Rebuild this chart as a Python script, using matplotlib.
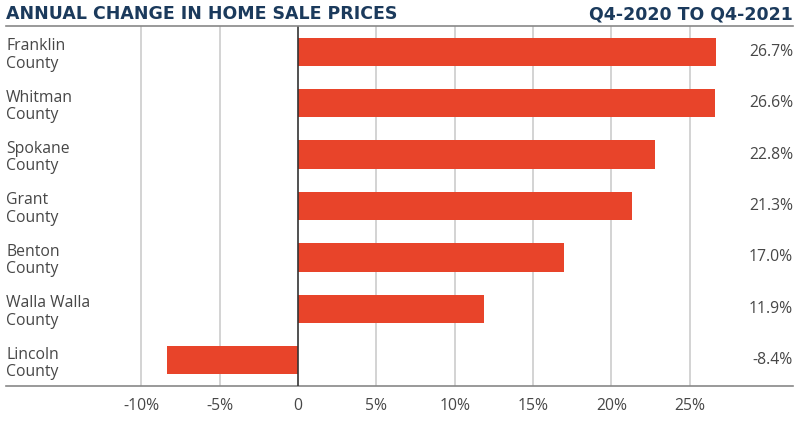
import matplotlib
matplotlib.use("Agg")
from matplotlib import pyplot as plt
import numpy as np

counties = ["Franklin\nCounty", "Whitman\nCounty", "Spokane\nCounty", "Grant\nCounty",
            "Benton\nCounty", "Walla Walla\nCounty", "Lincoln\nCounty"]
changes = [26.7, 26.6, 22.8, 21.3, 17.0, 11.9, -8.4]
tick_vals = [-10, -5, 0, 5, 10, 15, 20, 25]
tick_labels = ["-10%", "-5%", "0", "5%", "10%", "15%", "20%", "25%"]

plt.rcParams['font.family'] = ['Open Sans', 'DejaVu Sans']

navy = "#1b3a5c"
text_gray = "#474747"
bar_red = "#e8442a"

fig = plt.figure(figsize=(8, 4.24), dpi=100)
# axes spans the full width between the two rules (x 6..793, y 26..386)
ax = fig.add_axes([6/800, 1 - 386/424, 787/800, 360/424])

y = np.arange(len(counties))
ax.barh(y, changes, height=0.55, color=bar_red, zorder=3)

ax.set_xlim(-18.65, 31.6)
ax.set_ylim(6.5, -0.5)

for v in tick_vals:
    if v == 0:
        ax.axvline(v, color="#333333", lw=1.2, zorder=4)
    else:
        ax.axvline(v, color="#cccccc", lw=1.2, zorder=1)

ax.set_xticks(tick_vals)
ax.set_xticklabels(tick_labels, fontsize=11.3, color=text_gray)
ax.tick_params(axis="x", length=0, pad=9)
ax.set_yticks([])

for s in ["top", "left", "right"]:
    ax.spines[s].set_visible(False)
ax.spines["bottom"].set_color("#888888")
ax.spines["bottom"].set_linewidth(1.2)

# county names on the left
for i, name in enumerate(counties):
    ax.text(0.0, i + 0.06, name, transform=ax.get_yaxis_transform(), ha="left", va="center",
            fontsize=11.3, color=text_gray, linespacing=1.12)

# value labels on the right
for i, v in enumerate(changes):
    ax.text(1.0, i, f"{v:.1f}%", transform=ax.get_yaxis_transform(), ha="right", va="center",
            fontsize=11.3, color=text_gray)

# header (DejaVu bold is wide enough to mimic the letter-spaced title)
fig.text(6/800, 1 - 14/424, "ANNUAL CHANGE IN HOME SALE PRICES", ha="left", va="center",
         fontsize=12.5, fontweight="bold", color=navy, family="DejaVu Sans")
fig.text(793/800, 1 - 14/424, "Q4-2020 TO Q4-2021", ha="right", va="center",
         fontsize=12.5, fontweight="bold", color=navy, family="DejaVu Sans")
fig.add_artist(plt.Line2D([6/800, 793/800], [1 - 26/424, 1 - 26/424], color="#888888", lw=1.2))

fig.savefig("out.png", dpi=100)
